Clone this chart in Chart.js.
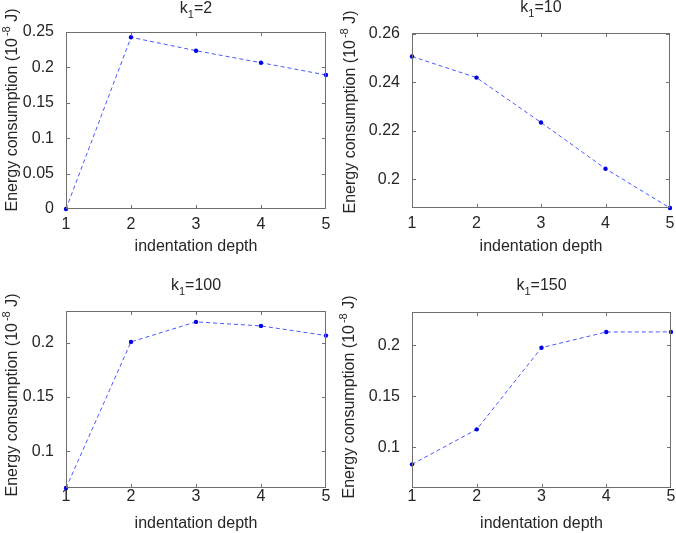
<!DOCTYPE html>
<html>
<head>
<meta charset="utf-8">
<script src="https://cdn.jsdelivr.net/npm/chart.js@4.4.1/dist/chart.umd.min.js"></script>
<style>
  html, body { margin: 0; padding: 0; background: #ffffff; }
  #wrap { position: relative; width: 676px; height: 533px; overflow: hidden; }
  .cell { position: absolute; }
  canvas { display: block; }
</style>
</head>
<body>
<div id="wrap">
  <div class="cell" style="left:0px;top:0px;"><canvas id="c0" width="338" height="265"></canvas></div>
  <div class="cell" style="left:338px;top:0px;"><canvas id="c1" width="338" height="265"></canvas></div>
  <div class="cell" style="left:0px;top:265px;"><canvas id="c2" width="338" height="268"></canvas></div>
  <div class="cell" style="left:338px;top:265px;"><canvas id="c3" width="338" height="268"></canvas></div>
</div>
<script>
// ---------------- data ----------------
const CATEGORIES = ['1', '2', '3', '4', '5'];
const K_VALUES = ['2', '10', '100', '150'];
const X_TITLE = 'indentation depth';
const Y_TITLE_MAIN = 'Energy consumption (10';
const Y_TITLE_SUP = '-8';
const Y_TITLE_END = ' J)';

const ENERGY_K2   = [0.0,    0.2425, 0.2236, 0.2066, 0.1893];
const ENERGY_K10  = [0.2506, 0.2419, 0.2234, 0.2043, 0.1881];
const ENERGY_K100 = [0.0663, 0.2006, 0.2190, 0.2153, 0.2064];
const ENERGY_K150 = [0.0833, 0.1176, 0.1977, 0.2131, 0.2132];

const Y_TICKS_K2   = [0, 0.05, 0.1, 0.15, 0.2, 0.25];
const Y_LABELS_K2  = ['0', '0.05', '0.1', '0.15', '0.2', '0.25'];
const Y_TICKS_K10  = [0.2, 0.22, 0.24, 0.26];
const Y_LABELS_K10 = ['0.2', '0.22', '0.24', '0.26'];
const Y_TICKS_K100  = [0.1, 0.15, 0.2];
const Y_LABELS_K100 = ['0.1', '0.15', '0.2'];
const Y_TICKS_K150  = [0.1, 0.15, 0.2];
const Y_LABELS_K150 = ['0.1', '0.15', '0.2'];

const Y_MIN = [0, 0.1881, 0.0663, 0.0601];
const Y_MAX = [0.25, 0.2603, 0.2290, 0.2327];

// ---------------- layout (positions only) ----------------
const LAYOUT = [
  { w: 338, h: 265, pl: 66, pr: 326, pt: 32, pb: 209, ylx: 13, yly: 110, tby: 13, xtp: -2, xtt: 9 },
  { w: 338, h: 265, pl: 74, pr: 332, pt: 33, pb: 208, ylx: 13, yly: 112, tby: 12, xtp: -2, xtt: 9 },
  { w: 338, h: 268, pl: 66, pr: 326, pt: 46, pb: 223, ylx: 13, yly: 130, tby: 25, xtp: -9, xtt: 0 },
  { w: 338, h: 268, pl: 74, pr: 333, pt: 47, pb: 223, ylx: 12, yly: 132, tby: 25, xtp: -9, xtt: 0 }
];

const FONT_FAMILY = "'Liberation Sans', Arial, Helvetica, sans-serif";
const TEXT_COLOR = '#262626';
const BOX_COLOR = '#707070';
const LINE_COLOR = 'rgba(40, 60, 255, 0.85)';
const POINT_COLOR = '#0000e6';

const SERIES = [ENERGY_K2, ENERGY_K10, ENERGY_K100, ENERGY_K150];
const TICKS = [Y_TICKS_K2, Y_TICKS_K10, Y_TICKS_K100, Y_TICKS_K150];
const TICK_LABELS = [Y_LABELS_K2, Y_LABELS_K10, Y_LABELS_K100, Y_LABELS_K150];

// ---------------- decoration plugin (box, inner ticks, titles) ----------------
const matlabDecor = {
  id: 'matlabDecor',
  afterDraw(chart, args, opts) {
    const ctx = chart.ctx;
    const a = chart.chartArea;
    const xs = chart.scales.x, ys = chart.scales.y;
    const L = Math.round(a.left), R = Math.round(a.right) - 1;
    const T = Math.round(a.top), B = Math.round(a.bottom) - 1;
    ctx.save();
    ctx.setLineDash([]);
    ctx.globalAlpha = 1;
    ctx.fillStyle = BOX_COLOR;
    // box
    ctx.fillRect(L, T, R - L + 1, 1);
    ctx.fillRect(L, B, R - L + 1, 1);
    ctx.fillRect(L, T, 1, B - T + 1);
    ctx.fillRect(R, T, 1, B - T + 1);
    // inner ticks
    const tl = 4;
    xs.ticks.forEach((t, i) => {
      const px = Math.min(R, Math.round(xs.getPixelForTick(i)));
      ctx.fillRect(px, B - tl + 1, 1, tl);
      ctx.fillRect(px, T, 1, tl);
    });
    ys.ticks.forEach((t) => {
      const py = Math.min(B, Math.round(ys.getPixelForValue(t.value)));
      ctx.fillRect(L, py, tl, 1);
      ctx.fillRect(R - tl + 1, py, tl, 1);
    });

    // subplot title: k with subscript 1
    ctx.fillStyle = TEXT_COLOR;
    ctx.textBaseline = 'alphabetic';
    ctx.textAlign = 'left';
    const big = '16px ' + FONT_FAMILY, small = '11px ' + FONT_FAMILY;
    ctx.font = big; const wk = ctx.measureText('k').width;
    const rest = '=' + opts.k;
    const wr = ctx.measureText(rest).width;
    ctx.font = small; const ws = ctx.measureText('1').width;
    const total = wk + ws + wr;
    const x0 = (a.left + a.right) / 2 - total / 2;
    const by = opts.tby;
    ctx.font = big; ctx.fillText('k', x0, by);
    ctx.font = small; ctx.fillText('1', x0 + wk, by + 5);
    ctx.font = big; ctx.fillText(rest, x0 + wk + ws, by);

    // y-axis label with superscript
    ctx.save();
    ctx.translate(opts.ylx, opts.yly);
    ctx.rotate(-Math.PI / 2);
    ctx.textBaseline = 'middle';
    ctx.font = big; const w1 = ctx.measureText(Y_TITLE_MAIN).width;
    const w3 = ctx.measureText(Y_TITLE_END).width;
    ctx.font = small; const w2 = ctx.measureText(Y_TITLE_SUP).width + 2;
    const sx = -(w1 + w2 + w3) / 2;
    ctx.font = big; ctx.fillText(Y_TITLE_MAIN, sx, 0);
    ctx.font = small; ctx.fillText(Y_TITLE_SUP, sx + w1 + 2, -6);
    ctx.font = big; ctx.fillText(Y_TITLE_END, sx + w1 + w2, 0);
    ctx.restore();
    ctx.restore();
  }
};

// ---------------- build charts ----------------
for (let i = 0; i < 4; i++) {
  const lay = LAYOUT[i];
  const ticksArr = TICKS[i];
  const labelsArr = TICK_LABELS[i];
  new Chart(document.getElementById('c' + i), {
    type: 'line',
    data: {
      labels: CATEGORIES,
      datasets: [{
        data: SERIES[i],
        borderColor: LINE_COLOR,
        borderWidth: 1,
        borderDash: [4, 3],
        pointRadius: 2.2,
        pointBackgroundColor: POINT_COLOR,
        pointBorderColor: POINT_COLOR,
        pointBorderWidth: 0,
        tension: 0,
        fill: false,
        clip: false
      }]
    },
    options: {
      responsive: false,
      animation: false,
      devicePixelRatio: 1,
      layout: { padding: { left: 0, right: lay.w - lay.pr, top: lay.pt, bottom: 0 } },
      plugins: {
        legend: { display: false },
        title: { display: false },
        tooltip: { enabled: false },
        matlabDecor: { k: K_VALUES[i], ylx: lay.ylx, yly: lay.yly, tby: lay.tby }
      },
      scales: {
        x: {
          type: 'category',
          offset: false,
          grid: { display: false },
          border: { display: false },
          ticks: {
            color: TEXT_COLOR,
            font: { family: FONT_FAMILY, size: 16 },
            padding: lay.xtp,
            maxRotation: 0,
            autoSkip: false
          },
          title: {
            display: true,
            text: X_TITLE,
            color: TEXT_COLOR,
            font: { family: FONT_FAMILY, size: 16 },
            padding: { top: 0, bottom: lay.xtt }
          },
          afterFit(scale) { scale.height = lay.h - lay.pb; }
        },
        y: {
          type: 'linear',
          min: Y_MIN[i],
          max: Y_MAX[i],
          grid: { display: false },
          border: { display: false },
          ticks: {
            color: TEXT_COLOR,
            font: { family: FONT_FAMILY, size: 16 },
            padding: 4,
            callback: (v) => {
              const k = ticksArr.findIndex(t => Math.abs(t - v) < 1e-9);
              return k >= 0 ? labelsArr[k] : '';
            }
          },
          afterBuildTicks(scale) { scale.ticks = ticksArr.map(v => ({ value: v })); },
          afterFit(scale) { scale.width = lay.pl; }
        }
      }
    },
    plugins: [matlabDecor]
  });
}
</script>
</body>
</html>
